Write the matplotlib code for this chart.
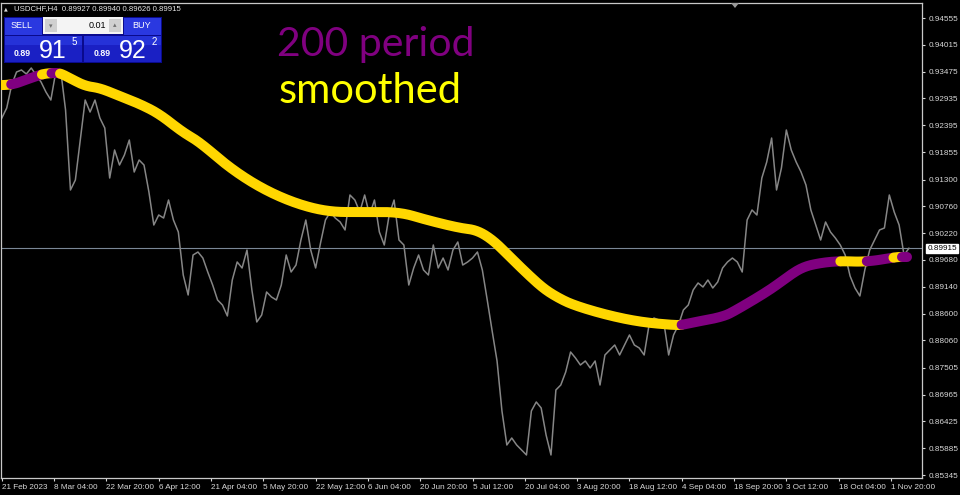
import matplotlib
matplotlib.use('Agg')

import numpy as np
import matplotlib.pyplot as plt
from matplotlib.patches import Rectangle, Polygon

W, H = 960, 495

# USDCHF H4 closes, one value every 6 bars
closes = [
    0.92540, 0.92742, 0.93205, 0.93467, 0.93508, 0.93427, 0.93548, 0.93407, 0.93266, 0.93064,
    0.92903, 0.93467, 0.93508, 0.92702, 0.91090, 0.91291, 0.92097, 0.92903, 0.92661, 0.92903,
    0.92540, 0.92339, 0.91331, 0.91896, 0.91593, 0.91795, 0.92097, 0.91452, 0.91694, 0.91593,
    0.91049, 0.90384, 0.90586, 0.90525, 0.90888, 0.90485, 0.90243, 0.89377, 0.88974, 0.89780,
    0.89840, 0.89719, 0.89437, 0.89175, 0.88873, 0.88772, 0.88551, 0.89276, 0.89639, 0.89518,
    0.89880, 0.89075, 0.88430, 0.88571, 0.89034, 0.88933, 0.88873, 0.89175, 0.89780, 0.89437,
    0.89578, 0.90082, 0.90485, 0.89880, 0.89518, 0.90022, 0.90485, 0.90646, 0.90525, 0.90445,
    0.90284, 0.90989, 0.90888, 0.90646, 0.90989, 0.90586, 0.90888, 0.90243, 0.89981, 0.90586,
    0.90888, 0.90082, 0.89981, 0.89175, 0.89518, 0.89780, 0.89478, 0.89377, 0.89981, 0.89518,
    0.89719, 0.89478, 0.89880, 0.90042, 0.89578, 0.89639, 0.89719, 0.89840, 0.89478, 0.88873,
    0.88250, 0.87644, 0.86637, 0.85951, 0.86092, 0.85951, 0.85851, 0.85750, 0.86637, 0.86818,
    0.86697, 0.86153, 0.85750, 0.87060, 0.87160, 0.87422, 0.87825, 0.87704, 0.87563, 0.87644,
    0.87503, 0.87644, 0.87160, 0.87765, 0.87866, 0.87966, 0.87765, 0.87966, 0.88168, 0.87966,
    0.87906, 0.87765, 0.88369, 0.88510, 0.88470, 0.88430, 0.87765, 0.88168, 0.88369, 0.88671,
    0.88772, 0.89075, 0.89216, 0.89135, 0.89276, 0.89115, 0.89236, 0.89518, 0.89639, 0.89719,
    0.89639, 0.89437, 0.90485, 0.90687, 0.90586, 0.91331, 0.91654, 0.92137, 0.91090, 0.91533,
    0.92299, 0.91896, 0.91654, 0.91452, 0.91190, 0.90687, 0.90384, 0.90082, 0.90445, 0.90243,
    0.90122, 0.89981, 0.89780, 0.89356, 0.89115, 0.88954, 0.89478, 0.89880, 0.90082, 0.90284,
    0.90324, 0.90989, 0.90646, 0.90384, 0.89780, 0.89915,
]
BAR_STEP = 6

# 200 period smoothed MA, key points (bar index, value, 1 = rising / purple)
ma_bars = [0, 12, 32, 50, 61, 71, 83, 102, 120, 144, 169, 193, 221, 242, 279,
           319, 361, 401, 442, 487, 520, 560, 581, 601, 622, 642, 662, 679, 699, 740,
           781, 821, 832, 842, 882, 899, 940, 961, 980, 1001, 1025, 1058, 1095, 1101, 1108]
ma_vals = [0.93205, 0.93205, 0.93326, 0.93427, 0.93447, 0.93447, 0.93346, 0.93185, 0.93145, 0.92984,
           0.92822, 0.92621, 0.92258, 0.92057, 0.91533, 0.91110, 0.90807, 0.90646, 0.90646, 0.90646,
           0.90485, 0.90324, 0.90284, 0.90082, 0.89739, 0.89417, 0.89115, 0.88933, 0.88772, 0.88571,
           0.88430, 0.88369, 0.88369, 0.88410, 0.88530, 0.88672, 0.89075, 0.89336, 0.89538, 0.89619,
           0.89659, 0.89639, 0.89739, 0.89739, 0.89739]
ma_up = [0, 1, 1, 0, 1, 0, 0, 0, 0, 0,
         0, 0, 0, 0, 0, 0, 0, 0, 0, 0,
         0, 0, 0, 0, 0, 0, 0, 0, 0, 0,
         0, 0, 1, 1, 1, 1, 1, 1, 1, 1,
         0, 1, 0, 1, 1]

date_labels = ['21 Feb 2023', '8 Mar 04:00', '22 Mar 20:00', '6 Apr 12:00', '21 Apr 04:00',
               '5 May 20:00', '22 May 12:00', '6 Jun 04:00', '20 Jun 20:00', '5 Jul 12:00',
               '20 Jul 04:00', '3 Aug 20:00', '18 Aug 12:00', '4 Sep 04:00', '18 Sep 20:00',
               '3 Oct 12:00', '18 Oct 04:00', '1 Nov 20:00']
BARS_PER_LABEL = 64
price_ticks = [0.94555, 0.94015, 0.93475, 0.92935, 0.92395, 0.91855, 0.91300, 0.90760, 0.90220,
               0.89680, 0.89140, 0.88600, 0.88060, 0.87505, 0.86965, 0.86425, 0.85885, 0.85345]
ohlc = [0.89927, 0.89940, 0.89626, 0.89915]
last_price = ohlc[3]
lot = '0.01'

plt.rcParams['font.family'] = ['Liberation Sans', 'DejaVu Sans']

fig = plt.figure(figsize=(W / 100, H / 100), dpi=100, facecolor='black')
ax = fig.add_axes([1 / W, 17 / H, 921 / W, 475 / H])
ax.set_facecolor('black')

x = np.arange(len(closes)) * BAR_STEP
ax.plot(x, closes, color='#868686', linewidth=1.1, zorder=2)

# current price line
ax.axhline(last_price, color='#7a8796', linewidth=0.8, zorder=1)

# MA: rounded through the key points (quadratic pieces between midpoints),
# each half piece takes the colour of the segment it lies on
pts = np.column_stack([ma_bars, ma_vals])
n = len(pts)
mids = (pts[:-1] + pts[1:]) / 2
t = np.linspace(0, 1, 25)[:, None]
curve_x, curve_y, curve_c = [], [], []
for k in range(1, n - 1):
    a = pts[0] if k == 1 else mids[k - 1]
    b = pts[-1] if k == n - 2 else mids[k]
    seg = (1 - t) ** 2 * a + 2 * (1 - t) * t * pts[k] + t ** 2 * b
    for j, (sx, sy) in enumerate(seg):
        curve_x.append(sx)
        curve_y.append(sy)
        curve_c.append(ma_up[k - 1] if t[j, 0] < 0.5 else ma_up[k])

colors = {0: '#ffd700', 1: '#800080'}
start = 0
for i in range(1, len(curve_x)):
    if i == len(curve_x) - 1 or curve_c[i] != curve_c[start]:
        ax.plot(curve_x[start:i + 1], curve_y[start:i + 1], color=colors[curve_c[start]],
                linewidth=7.2, solid_capstyle='round', solid_joinstyle='round', zorder=3)
        start = i

ax.set_xlim(-1, 1126)
ax.set_ylim(0.85286, 0.94858)

ax.yaxis.tick_right()
ax.set_yticks(price_ticks)
ax.set_yticklabels([f'{p:.5f}' for p in price_ticks])
ax.set_xticks(np.arange(len(date_labels)) * BARS_PER_LABEL)
ax.set_xticklabels(date_labels, ha='left')
ax.tick_params(colors='#d8d8d8', labelsize=5.9, length=2.5, width=0.8, direction='out')
ax.tick_params(axis='y', pad=2)
ax.tick_params(axis='x', pad=1.5)
for s in ax.spines.values():
    s.set_color('#c8c8c8')
    s.set_linewidth(0.9)

# last price tag
ax.annotate(f'{last_price:.5f}', xy=(1.0, last_price), xycoords=('axes fraction', 'data'),
            xytext=(4, 0), textcoords='offset points', va='center', ha='left',
            fontsize=5.9, color='black',
            bbox=dict(boxstyle='square,pad=0.15', fc='white', ec='white'))


def fx(px):
    return px / W


def fy(py):
    return 1 - py / H


def box(x0, y0, x1, y1, color, z=5):
    fig.patches.append(Rectangle((fx(x0), fy(y1)), (x1 - x0) / W, (y1 - y0) / H,
                                 transform=fig.transFigure, facecolor=color,
                                 edgecolor='none', zorder=z))


# header
fig.text(fx(4), fy(9), '▲', color='#d8d8d8', fontsize=3.5, va='center', family='DejaVu Sans')
fig.text(fx(14), fy(9), 'USDCHF,H4  ' + ' '.join(f'{v:.5f}' for v in ohlc),
         color='#e6e6e6', fontsize=5.6, va='center')

# one-click trading panel
box(4, 17, 162, 63, '#0a0a8c')
box(5, 18, 42, 35, '#2a38e0')
box(124, 18, 161, 35, '#2a38e0')
box(5, 36, 82, 62, '#1a20c4')
box(84, 36, 161, 62, '#1a20c4')
box(5, 36, 82, 45, '#2532d8')
box(84, 36, 161, 45, '#2532d8')
box(43, 17, 123, 34, '#f4f4f4')
box(45, 19, 57, 32, '#d0d0d0', z=6)
box(109, 19, 121, 32, '#d0d0d0', z=6)
fig.text(fx(51), fy(26), '▾', color='#707070', fontsize=5, ha='center', va='center',
         family='DejaVu Sans', zorder=7)
fig.text(fx(115), fy(25), '▴', color='#707070', fontsize=5, ha='center', va='center',
         family='DejaVu Sans', zorder=7)
fig.text(fx(106), fy(26), lot, color='black', fontsize=6.5, ha='right', va='center', zorder=7)
fig.text(fx(22), fy(26), 'SELL', color='white', fontsize=6.5, ha='center', va='center', zorder=7)
fig.text(fx(142), fy(26), 'BUY', color='white', fontsize=6.5, ha='center', va='center', zorder=7)

bid, ask = 0.89915, 0.89922
for x0, p in [(14, bid), (94, ask)]:
    s = f'{p:.5f}'
    fig.text(fx(x0), fy(56), s[:4], color='white', fontsize=6.3, fontweight='bold',
             va='baseline', zorder=7)
    fig.text(fx(x0 + 25), fy(58), s[4:6], color='white', fontsize=18, va='baseline', zorder=7)
    fig.text(fx(x0 + 58), fy(45), s[6], color='white', fontsize=7, va='baseline', zorder=7)

# chart shift marker
fig.patches.append(Polygon([(fx(731), fy(3)), (fx(739), fy(3)), (fx(735), fy(8))], closed=True,
                           transform=fig.transFigure, facecolor='#9a9a9a', edgecolor='none'))

# labels
fig.text(fx(277), fy(56), '200 period', color='#800080', fontsize=29.5, family='Lato', va='baseline')
fig.text(fx(279), fy(103), 'smoothed', color='#ffff00', fontsize=30, family='Lato', va='baseline')

fig.savefig('out.png', dpi=100, facecolor='black')
